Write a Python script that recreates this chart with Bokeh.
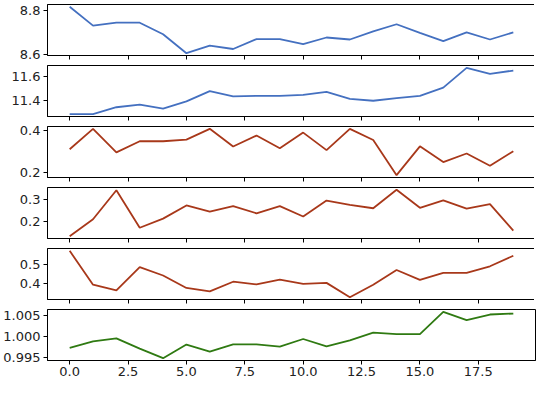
from bokeh.plotting import figure
from bokeh.layouts import column
from bokeh.models import Range1d, FixedTicker, PrintfTickFormatter
from bokeh.embed import file_html
from bokeh.resources import INLINE

x = list(range(20))

s1 = [8.818, 8.733, 8.746, 8.746, 8.694, 8.608, 8.642, 8.627, 8.672, 8.672,
      8.649, 8.679, 8.670, 8.707, 8.739, 8.700, 8.663, 8.702, 8.670, 8.702]
s2 = [11.288, 11.288, 11.346, 11.367, 11.334, 11.395, 11.480, 11.436, 11.441, 11.441,
      11.449, 11.474, 11.416, 11.400, 11.422, 11.441, 11.510, 11.675, 11.625, 11.652]
s3 = [0.312, 0.409, 0.297, 0.350, 0.350, 0.358, 0.409, 0.325, 0.377, 0.317,
      0.391, 0.308, 0.409, 0.356, 0.189, 0.326, 0.251, 0.292, 0.234, 0.303]
s4 = [0.129, 0.209, 0.346, 0.169, 0.212, 0.274, 0.245, 0.271, 0.237, 0.271,
      0.222, 0.297, 0.277, 0.261, 0.348, 0.263, 0.298, 0.259, 0.280, 0.155]
s5 = [0.575, 0.395, 0.365, 0.488, 0.444, 0.378, 0.360, 0.411, 0.397, 0.422,
      0.400, 0.405, 0.329, 0.395, 0.473, 0.421, 0.458, 0.458, 0.493, 0.549]
s6 = [0.99724, 0.99882, 0.99953, 0.99709, 0.99481, 0.99804, 0.99639, 0.99811, 0.99811, 0.99757,
      0.99937, 0.99764, 0.99906, 1.00087, 1.00054, 1.00054, 1.00583, 1.00384, 1.00519, 1.00542]

series = [s1, s2, s3, s4, s5, s6]
colors = ["#4470c0", "#4470c0", "#a8381a", "#a8381a", "#a8381a", "#2f7a12"]
yticks = [[8.6, 8.8], [11.4, 11.6], [0.2, 0.4], [0.2, 0.3], [0.4, 0.5], [0.995, 1.000, 1.005]]
fmts = ["%.1f", "%.1f", "%.1f", "%.1f", "%.1f", "%.3f"]
xticks = [0.0, 2.5, 5.0, 7.5, 10.0, 12.5, 15.0, 17.5]

xr = Range1d(-0.95, 19.95)
figs = []
for i, (ys, c, yt, fm) in enumerate(zip(series, colors, yticks, fmts)):
    last = i == len(series) - 1
    lo, hi = min(ys), max(ys)
    pad = (hi - lo) * 0.05
    p = figure(frame_width=488, frame_height=51, x_range=xr,
               y_range=Range1d(lo - pad, hi + pad),
               output_backend="svg", toolbar_location=None,
               min_border_left=45, min_border_right=1, min_border_top=4,
               min_border_bottom=6)
    p.line(x, ys, line_color=c, line_width=1.8)
    p.xgrid.visible = False
    p.ygrid.visible = False
    p.outline_line_color = "black"
    p.outline_line_width = 1
    p.background_fill_color = "white"
    p.border_fill_color = "white"
    for ax in (p.xaxis[0], p.yaxis[0]):
        ax.major_tick_in = 0
        ax.major_tick_out = 4
        ax.minor_tick_line_color = None
        ax.axis_line_color = "black"
        ax.major_tick_line_color = "black"
        ax.major_label_text_font = "DejaVu Sans"
        ax.major_label_text_font_size = "13px"
        ax.major_label_text_color = "#222222"
        ax.major_label_standoff = 3
    p.yaxis[0].ticker = FixedTicker(ticks=yt)
    p.yaxis[0].formatter = PrintfTickFormatter(format=fm)
    p.xaxis[0].ticker = FixedTicker(ticks=xticks)
    p.xaxis[0].formatter = PrintfTickFormatter(format="%.1f")
    if not last:
        p.xaxis[0].major_label_text_color = None
        p.xaxis[0].major_label_standoff = 0
    else:
        p.min_border_bottom = 0
        p.xaxis[0].major_label_standoff = 2
    figs.append(p)

layout = column(*figs, spacing=0)
open("out.html", "w").write(file_html(layout, INLINE))
